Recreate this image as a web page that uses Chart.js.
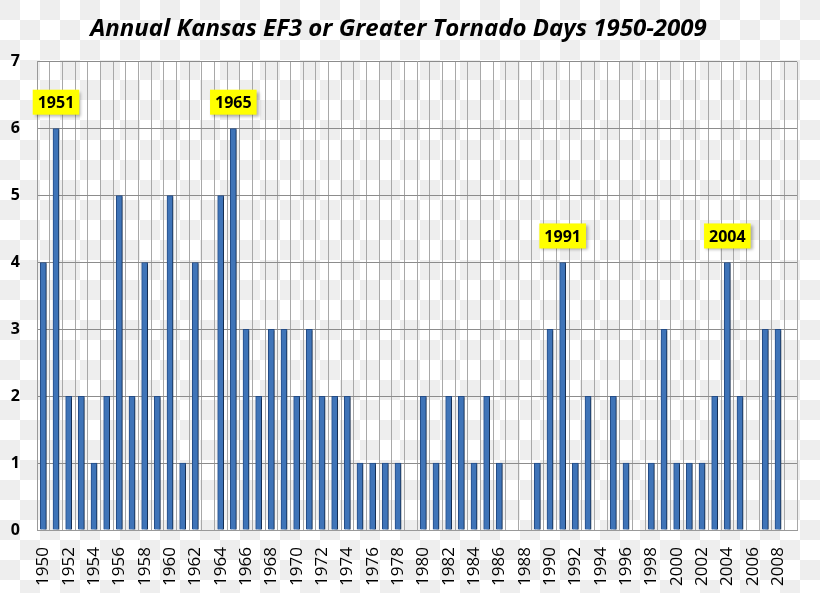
<!DOCTYPE html>
<html>
<head>
<meta charset="utf-8">
<script src="https://cdn.jsdelivr.net/npm/chart.js@4.4.1/dist/chart.umd.min.js"></script>
<style>
  html, body {
    margin: 0;
    padding: 0;
  }
  body {
    width: 820px;
    height: 593px;
    background-color: #fff;
    background-image: conic-gradient(#fff 25%, #eeeeee 0 50%, #fff 0 75%, #eeeeee 0);
    background-size: 40px 40px;
  }
  #wrap {
    width: 820px;
    height: 593px;
  }
</style>
</head>
<body>
<div id="wrap"><canvas id="myChart" width="820" height="593"></canvas></div>
<script>
// data
var years = ['1950','1951','1952','1953','1954','1955','1956','1957','1958','1959',
             '1960','1961','1962','1963','1964','1965','1966','1967','1968','1969',
             '1970','1971','1972','1973','1974','1975','1976','1977','1978','1979',
             '1980','1981','1982','1983','1984','1985','1986','1987','1988','1989',
             '1990','1991','1992','1993','1994','1995','1996','1997','1998','1999',
             '2000','2001','2002','2003','2004','2005','2006','2007','2008','2009'];
var tornadoDays = [4, 6, 2, 2, 1, 2, 5, 2, 4, 2,
                   5, 1, 4, 0, 5, 6, 3, 2, 3, 3,
                   2, 3, 2, 2, 2, 1, 1, 1, 1, 0,
                   2, 1, 2, 2, 1, 2, 1, 0, 0, 1,
                   3, 4, 1, 2, 0, 2, 1, 0, 1, 3,
                   1, 1, 1, 2, 4, 2, 0, 3, 3, 0];
var highlightYears = ['1951', '1965', '1991', '2004'];
var yMin = 0;
var yMax = 7;

var ctx = document.getElementById('myChart');

// drop shadow behind the bars
var barShadow = {
  id: 'barShadow',
  beforeDatasetsDraw: function(chart) {
    var c = chart.ctx;
    c.save();
    c.shadowColor = 'rgba(0,0,0,0.4)';
    c.shadowOffsetX = 3;
    c.shadowOffsetY = 1;
    c.shadowBlur = 2;
  },
  afterDatasetsDraw: function(chart) {
    chart.ctx.restore();
  }
};

// yellow year call-outs above the peaks
var yearBoxes = {
  id: 'yearBoxes',
  afterDraw: function(chart) {
    var c = chart.ctx;
    var xs = chart.scales.x;
    var ys = chart.scales.y;
    c.save();
    c.font = 'bold 16px "Open Sans"';
    c.textAlign = 'center';
    c.textBaseline = 'middle';
    highlightYears.forEach(function(yr) {
      var i = years.indexOf(yr);
      var x = xs.getPixelForValue(i);
      var top = ys.getPixelForValue(tornadoDays[i]);
      var w = c.measureText(yr).width + 10;
      var h = 25;
      var bottom = top - 14;
      c.shadowColor = 'rgba(0,0,0,0.3)';
      c.shadowOffsetX = 2;
      c.shadowOffsetY = 2;
      c.shadowBlur = 3;
      c.fillStyle = '#ffff00';
      c.fillRect(x - w / 2, bottom - h, w, h);
      c.shadowColor = 'transparent';
      c.fillStyle = '#000';
      c.fillText(yr, x, bottom - h / 2 + 1);
    });
    c.restore();
  }
};

var myChart = new Chart(ctx, {
  type: 'bar',
  data: {
    labels: years,
    datasets: [{
      label: 'EF3+ tornado days',
      data: tornadoDays,
      backgroundColor: '#3f74b8',
      borderColor: '#244d88',
      borderWidth: 1,
      borderSkipped: 'bottom',
      barThickness: 6
    }]
  },
  options: {
    responsive: false,
    animation: false,
    layout: {
      padding: { left: 0, right: 23, top: 0, bottom: 0 }
    },
    plugins: {
      legend: { display: false },
      tooltip: { enabled: false },
      title: {
        display: true,
        text: 'Annual Kansas EF3 or Greater Tornado Days 1950-2009',
        color: '#000',
        font: { family: 'Open Sans', size: 24, weight: 'bold', style: 'italic' },
        padding: { top: 15, bottom: 18 }
      }
    },
    scales: {
      x: {
        grid: {
          color: '#a8a8a8',
          drawTicks: false
        },
        border: { color: '#999' },
        ticks: {
          autoSkip: false,
          maxRotation: 90,
          minRotation: 90,
          padding: 17,
          color: '#000',
          font: { family: 'Open Sans', size: 17 },
          callback: function(value, index) {
            return index % 2 === 0 ? years[index] : '';
          }
        },
        afterFit: function(scale) {
          scale.height = 63;
          scale.paddingLeft = 0;
          scale.paddingRight = 0;
        }
      },
      y: {
        min: yMin,
        max: yMax,
        grid: {
          color: '#8c8c8c',
          drawTicks: false
        },
        border: { color: '#999' },
        ticks: {
          stepSize: 1,
          padding: 17,
          color: '#000',
          font: { family: 'Open Sans', size: 16, weight: 'bold' }
        },
        afterFit: function(scale) {
          scale.width = 37;
        }
      }
    }
  },
  plugins: [barShadow, yearBoxes]
});
</script>
</body>
</html>
